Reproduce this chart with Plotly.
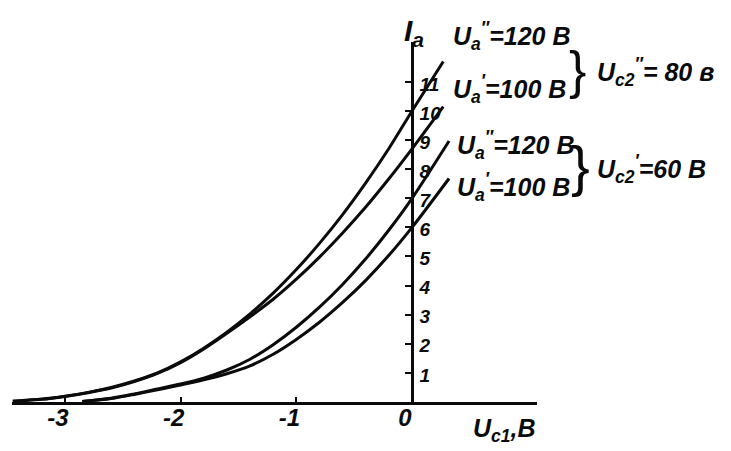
import plotly.graph_objects as go

# ---- data ----
uc1_80 = [-3.45, -3.2, -3.0, -2.8, -2.6, -2.4, -2.2, -2.0, -1.8, -1.6, -1.4, -1.2, -1.0, -0.8, -0.6, -0.4, -0.2, 0.0, 0.27]
ia_120_80 = [0.03, 0.1, 0.2, 0.33, 0.5, 0.72, 1.0, 1.38, 1.85, 2.4, 3.03, 3.74, 4.55, 5.45, 6.44, 7.53, 8.71, 10.0, 11.7]
ia_100_80 = [0.03, 0.09, 0.19, 0.32, 0.48, 0.7, 0.98, 1.35, 1.82, 2.36, 2.93, 3.53, 4.22, 4.98, 5.81, 6.7, 7.67, 8.7, 10.15]

uc1_60 = [-2.85, -2.6, -2.4, -2.2, -2.0, -1.8, -1.6, -1.4, -1.2, -1.0, -0.8, -0.6, -0.4, -0.2, 0.0, 0.32]
ia_120_60 = [0.02, 0.13, 0.28, 0.45, 0.62, 0.82, 1.1, 1.47, 1.97, 2.57, 3.26, 4.04, 4.92, 5.91, 7.0, 8.97]
ia_100_60 = [0.02, 0.12, 0.26, 0.42, 0.58, 0.76, 0.97, 1.24, 1.64, 2.15, 2.74, 3.42, 4.18, 5.04, 6.0, 7.68]

x_ticks = [-3, -2, -1, 0]
x_tick_labels = ["-3", "-2", "-1", "0"]
y_ticks = [1, 2, 3, 4, 5, 6, 7, 8, 9, 10, 11]
y_tick_labels = ["1", "2", "3", "4", "5", "6", "7", "8", "9", "10", "11"]

x_range = [-3.457, 1.08]
y_range = [0, 12.37]

# ---- layout geometry (page body adds an 8px offset) ----
W, H = 731, 451
OFF = 8
L, T = 4, 34
PW, PH = 525, 360
R, B = W - L - PW, H - T - PH

FONT = "Liberation Sans, DejaVu Sans, Arial"
INK = "#0b0b0b"


def pp(px, py):
    return (px - OFF - L) / PW, (H - B - (py - OFF)) / PH


fig = go.Figure()
for xs, ys in [(uc1_80, ia_120_80), (uc1_80, ia_100_80), (uc1_60, ia_120_60), (uc1_60, ia_100_60)]:
    fig.add_trace(go.Scatter(x=xs, y=ys, mode="lines", line=dict(color=INK, width=3, shape="spline", smoothing=0.8),
                             cliponaxis=False, showlegend=False, hoverinfo="skip"))

annotations = []


def txt(s, px, py, size, bold=True, italic=True):
    x, y = pp(px, py)
    annotations.append(dict(text=s, x=x, y=y, xref="paper", yref="paper", xanchor="left", yanchor="middle",
                            showarrow=False,
                            font=dict(family=FONT, size=size, color=INK,
                                      weight="bold" if bold else "normal",
                                      style="italic" if italic else "normal")))


# axis titles
txt("I<sub>a</sub>", 402, 32, 30)
txt("U<sub>c1</sub>,В", 471, 430, 25)

# upper group (U_c2'' = 80 V)
txt("U<sub>a</sub><sup>″</sup>=120 В", 451, 36, 25)
txt("U<sub>a</sub><sup>′</sup>=100 В", 451, 89, 25)
txt("}", 567, 70, 52, bold=False, italic=False)
txt("U<sub>c2</sub><sup>″</sup>= 80 в", 595, 72, 25)

# lower group (U_c2' = 60 V)
txt("U<sub>a</sub><sup>″</sup>=120 В", 455, 145, 25)
txt("U<sub>a</sub><sup>′</sup>=100 В", 455, 187, 25)
txt("}", 569, 165, 56, bold=False, italic=False)
txt("U<sub>c2</sub><sup>′</sup>=60 В", 595, 169, 25)

ypos = (0 - x_range[0]) / (x_range[1] - x_range[0])

fig.update_layout(
    width=W, height=H,
    margin=dict(l=L, r=R, t=T, b=B, pad=0, autoexpand=False),
    paper_bgcolor="white", plot_bgcolor="white",
    showlegend=False,
    annotations=annotations,
    xaxis=dict(range=x_range, showgrid=False, zeroline=False, showline=True, linecolor=INK, linewidth=2.5,
               automargin=False,
               ticks="inside", ticklen=5, tickwidth=2, tickcolor=INK,
               tickvals=x_ticks, ticktext=x_tick_labels, ticklabelstandoff=-8, ticklabelshift=-7,
               tickfont=dict(family=FONT, size=24, color=INK, weight="bold", style="italic")),
    yaxis=dict(range=y_range, showgrid=False, zeroline=False, showline=True, linecolor=INK, linewidth=2.5,
               automargin=False,
               anchor="free", position=ypos, side="right",
               ticks="inside", ticklen=6, tickwidth=2, tickcolor=INK,
               tickvals=y_ticks, ticktext=y_tick_labels, ticklabelstandoff=2, ticklabelshift=2,
               tickfont=dict(family=FONT, size=19, color=INK, weight="bold", style="italic")),
)

fig.write_html("out.html")
